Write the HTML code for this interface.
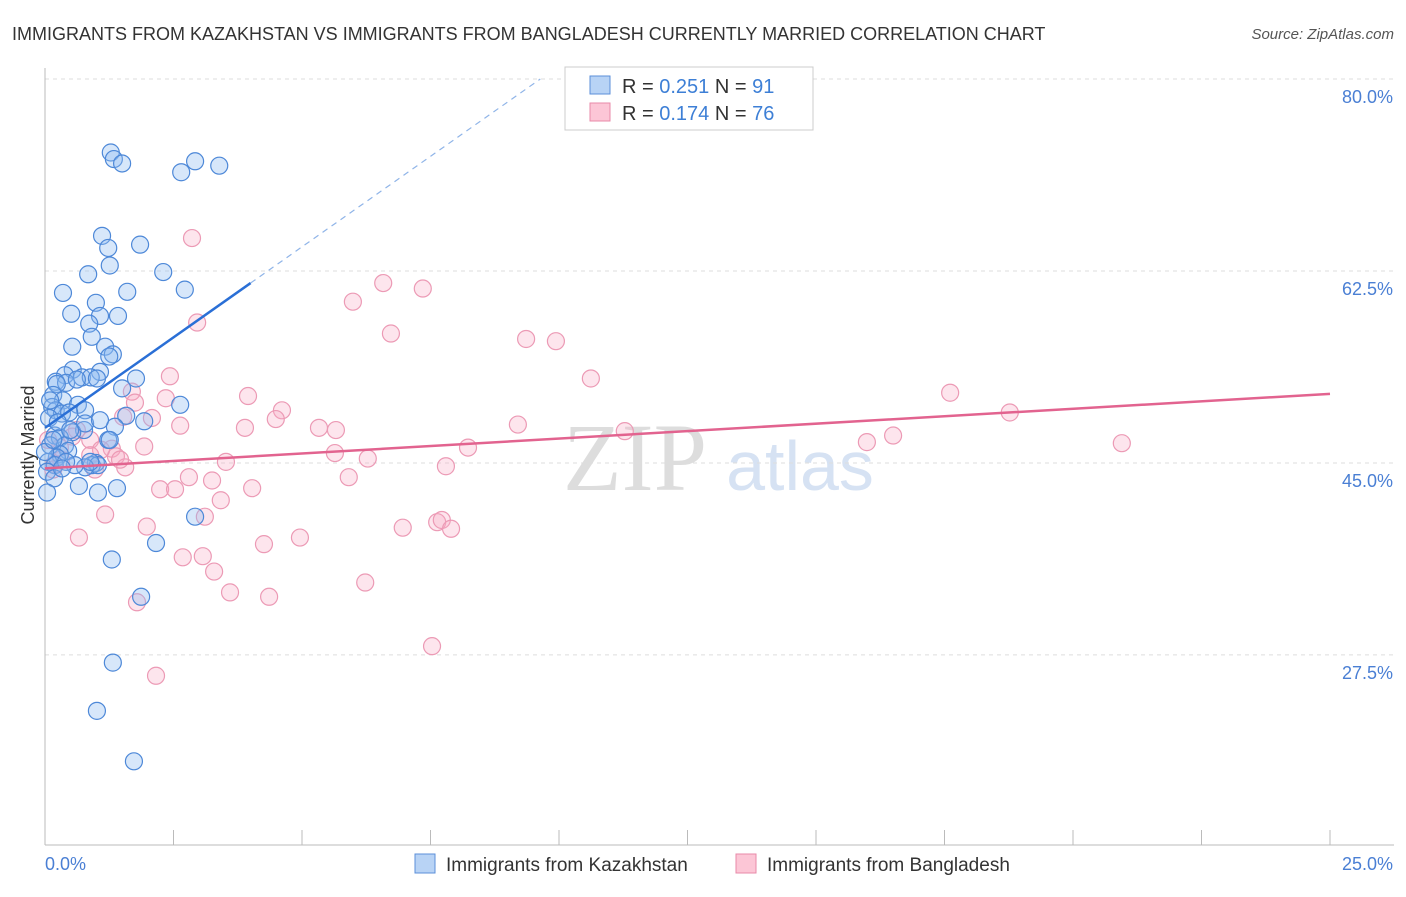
<!DOCTYPE html>
<html><head><meta charset="utf-8"><style>
body{margin:0;background:#fff;font-family:"Liberation Sans",sans-serif;}
svg text{font-family:"Liberation Sans",sans-serif;}
</style></head><body>
<svg id="c" width="1406" height="892" xmlns="http://www.w3.org/2000/svg">
<text x="12" y="40" font-size="18" fill="#333">IMMIGRANTS FROM KAZAKHSTAN VS IMMIGRANTS FROM BANGLADESH CURRENTLY MARRIED CORRELATION CHART</text>
<text x="1394" y="39" font-size="15" fill="#555" font-style="italic" text-anchor="end">Source: ZipAtlas.com</text>
<text x="635" y="490" font-size="96" fill="#ddd" font-family="Liberation Serif" text-anchor="middle" style="font-family:'Liberation Serif',serif">ZIP</text>
<text x="800" y="490" font-size="70" fill="#d6e2f3" text-anchor="middle">atlas</text>
<g id="grid"></g><g id="axes"></g><g id="pts"></g><g id="trend"></g>
<g>
<rect x="565" y="67" width="248" height="63" fill="#fff" stroke="#ccc"/>
<rect x="590" y="76" width="20" height="18" fill="#b8d3f5" stroke="#5b8fd9"/>
<rect x="590" y="103" width="20" height="18" fill="#fcc6d6" stroke="#e88aa8"/>
<text x="622" y="93" font-size="20" fill="#333">R = <tspan fill="#3d7fd6">0.251</tspan>   N = <tspan fill="#3d7fd6">91</tspan></text>
<text x="622" y="120" font-size="20" fill="#333">R = <tspan fill="#3d7fd6">0.174</tspan>   N = <tspan fill="#3d7fd6">76</tspan></text>
</g>
<text transform="translate(34,455) rotate(-90)" font-size="18" fill="#333" text-anchor="middle">Currently Married</text>
<text x="45" y="870" font-size="18" fill="#4a7fd4">0.0%</text>
<text x="1393" y="870" font-size="18" fill="#4a7fd4" text-anchor="end">25.0%</text>
<rect x="415" y="854" width="20" height="19" fill="#b8d3f5" stroke="#5b8fd9"/>
<text x="446" y="871" font-size="19" fill="#333">Immigrants from Kazakhstan</text>
<rect x="736" y="854" width="20" height="19" fill="#fcc6d6" stroke="#e88aa8"/>
<text x="767" y="871" font-size="19" fill="#333">Immigrants from Bangladesh</text>
</svg>
<script>
const yTicks=[80,62.5,45,27.5];
const yTickLabels=["80.0%","62.5%","45.0%","27.5%"];
const blueX=[1.28,1.34,1.50,2.92,2.65,3.39,1.11,1.85,1.23,1.26,0.84,2.30,0.35,2.72,1.60,0.99,0.51,1.07,1.42,0.86,0.91,0.53,1.17,1.32,1.25,0.54,1.07,0.39,0.72,0.89,1.01,1.77,0.21,0.41,0.62,0.23,1.50,0.16,0.35,0.14,0.64,0.78,2.63,1.58,1.93,0.21,0.33,0.08,0.47,1.36,0.76,0.53,0.19,1.23,0.29,0.10,0.39,0.45,0.29,0.23,0.06,0.19,0.99,0.91,1.03,0.78,0.04,0.18,0.66,1.40,1.03,0.04,2.92,2.16,1.30,1.87,1.32,1.01,1.73,0.0,0.10,0.58,0.41,0.88,0.25,1.26,0.78,0.49,0.33,0.16,1.07];
const blueY=[73.3,72.7,72.3,72.5,71.5,72.1,65.7,64.9,64.6,63.0,62.2,62.4,60.5,60.8,60.6,59.6,58.6,58.4,58.4,57.7,56.5,55.6,55.6,54.9,54.7,53.5,53.3,53.0,52.8,52.8,52.7,52.7,52.4,52.3,52.6,52.2,51.8,51.2,50.7,50.1,50.3,49.8,50.3,49.3,48.8,49.8,49.5,49.1,49.6,48.3,48.0,47.8,47.5,47.1,47.3,46.6,46.6,46.1,45.8,45.5,45.1,44.8,45.0,44.8,44.8,44.6,44.2,43.6,42.9,42.7,42.3,42.3,40.1,37.7,36.2,32.8,26.8,22.4,17.8,46.0,50.7,44.8,45.1,45.1,48.7,47.1,48.6,48.0,44.5,47.1,48.9];
const pinkX=[2.86,6.58,7.35,5.99,2.96,6.73,9.36,9.94,10.62,2.43,3.95,17.61,1.69,2.35,1.75,4.61,18.77,1.52,2.08,2.63,3.89,4.49,5.33,5.66,9.20,11.28,16.50,15.99,20.95,0.62,0.53,0.88,1.30,1.93,8.23,5.64,6.28,1.38,1.09,0.88,0.31,0.18,1.56,7.80,3.52,5.91,2.80,3.25,2.24,2.53,4.03,3.42,1.17,3.11,1.98,7.63,6.96,7.72,7.90,0.66,4.96,4.26,2.68,3.07,3.29,6.23,3.60,4.36,1.79,7.53,2.16,0.16,0.29,0.06,0.97,1.46];
const pinkY=[65.5,61.4,60.9,59.7,57.8,56.8,56.3,56.1,52.7,52.9,51.1,51.4,51.5,50.9,50.5,49.8,49.6,49.2,49.1,48.4,48.2,49.0,48.2,48.0,48.5,47.9,47.5,46.9,46.8,48.0,47.4,47.1,46.3,46.5,46.4,45.9,45.4,45.6,46.2,45.7,45.3,44.9,44.6,44.7,45.1,43.7,43.7,43.4,42.6,42.6,42.7,41.6,40.3,40.1,39.2,39.6,39.1,39.8,39.0,38.2,38.2,37.6,36.4,36.5,35.1,34.1,33.2,32.8,32.3,28.3,25.6,44.4,46.4,47.1,44.4,45.3];
const blueTrend=[48.2,3.3];   // intercept, slope
const pinkTrend=[44.5,0.272];
const X0=45,X1=1330,Y80=79,PY=10.97;
const sx=v=>X0+v/25*(X1-X0);
const sy=v=>Y80+(80-v)*PY;
const NS="http://www.w3.org/2000/svg";
function mk(t,a,p){const e=document.createElementNS(NS,t);for(const k in a)e.setAttribute(k,a[k]);p.appendChild(e);return e;}
const grid=document.getElementById('grid');
yTicks.forEach((t,i)=>{
  const l=mk('line',{x1:45,x2:1394,y1:sy(t),y2:sy(t),stroke:'#ddd','stroke-dasharray':'4,4'},grid);
  
  
  const tx=mk('text',{x:1393,y:sy(t)+24,'font-size':18,fill:'#4a7fd4','text-anchor':'end'},grid);
  tx.textContent=yTickLabels[i];
  
  
});
const axes=document.getElementById('axes');
const ya=mk('line',{x1:45,x2:45,y1:68,y2:845,stroke:'#bbb'},axes);


const xa=mk('line',{x1:45,x2:1394,y1:845,y2:845,stroke:'#bbb'},axes);


for(let i=0;i<=10;i++){const v=i*2.5;
  const tk=mk('line',{x1:sx(v),x2:sx(v),y1:830,y2:845,stroke:'#bbb'},axes);
  
  }
const pts=document.getElementById('pts');
pinkX.forEach((x,i)=>{const c=mk('circle',{cx:sx(x),cy:sy(pinkY[i]),r:8.5,fill:'rgba(248,170,195,0.3)',stroke:'#ec9ab5','stroke-width':1.2},pts);
  
  });
blueX.forEach((x,i)=>{const c=mk('circle',{cx:sx(x),cy:sy(blueY[i]),r:8.5,fill:'rgba(140,185,240,0.35)',stroke:'#4d88d8','stroke-width':1.2},pts);
  
  });
const tr=document.getElementById('trend');
const bEnd=4, bDash=(80-blueTrend[0])/blueTrend[1];
const b1=mk('line',{x1:sx(0),y1:sy(blueTrend[0]),x2:sx(bEnd),y2:sy(blueTrend[0]+blueTrend[1]*bEnd),stroke:'#2a6fd6','stroke-width':2.5},tr);


const b2=mk('line',{x1:sx(bEnd),y1:sy(blueTrend[0]+blueTrend[1]*bEnd),x2:sx(bDash),y2:sy(80),stroke:'#8fb4e8','stroke-width':1.2,'stroke-dasharray':'6,5'},tr);


const p1=mk('line',{x1:sx(0),y1:sy(pinkTrend[0]),x2:sx(25),y2:sy(pinkTrend[0]+pinkTrend[1]*25),stroke:'#e2638f','stroke-width':2.5},tr);


</script>
</body></html>
